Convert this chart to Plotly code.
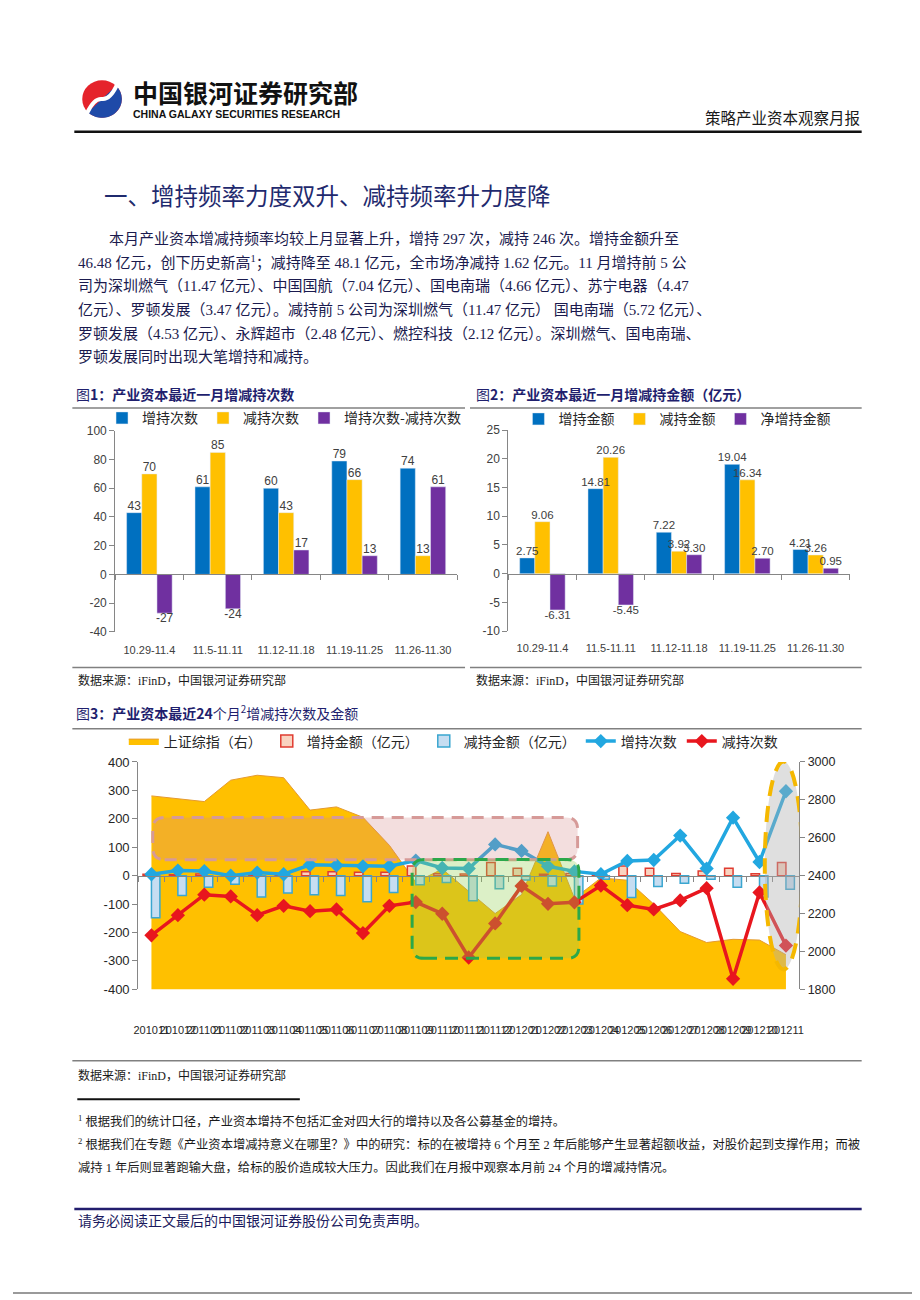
import math
import plotly.graph_objects as go

W, H = 920, 1300
def X(px): return px / W
def Y(py): return 1 - py / H

# ---------------- data ----------------
periods = ['10.29-11.4', '11.5-11.11', '11.12-11.18', '11.19-11.25', '11.26-11.30']
add_counts = [43, 61, 60, 79, 74]
sub_counts = [70, 85, 43, 66, 13]
net_counts = [-27, -24, 17, 13, 61]

add_amounts = [2.75, 14.81, 7.22, 19.04, 4.21]
sub_amounts = [9.06, 20.26, 3.92, 16.34, 3.26]
net_amounts = [-6.31, -5.45, 3.30, 2.70, 0.95]

months = ['201011', '201012', '201101', '201102', '201103', '201104', '201105',
          '201106', '201107', '201108', '201109', '201110', '201111', '201112',
          '201201', '201202', '201203', '201204', '201205', '201206', '201207',
          '201208', '201209', '201210', '201211']
sh_index = [2821, 2807, 2791, 2904, 2930, 2917, 2746, 2763, 2708, 2560, 2365, 2435,
            2318, 2200, 2300, 2632, 2280, 2388, 2376, 2250, 2105, 2047, 2064, 2060, 1983]
add_amt_24 = [5, 3, 6, 2, 3, 3, 14, 14, 12, 12, 34, 7, 6, 46, 26, 5, 8, 2, 34, 26,
              8, 16, 26, 7, 46.48]
sub_amt_24 = [-148, -70, -41, -30, -75, -61, -67, -70, -92, -59, -32, -24, -88, -46,
              -15, -36, -100, -13, -77, -38, -27, -13, -41, -75, -48.1]
add_cnt_24 = [5, 18, 16, 0, 11, 5, 38, 36, 33, 33, 53, 27, 25, 110, 87, 33, 15, 5,
              52, 55, 141, 25, 204, 48, 297]
sub_cnt_24 = [-210, -139, -67, -73, -139, -106, -125, -119, -202, -106, -93, -134,
              -288, -168, -36, -99, -94, -35, -104, -119, -87, -44, -363, -59, -246]

# ---------------- styles ----------------
BLUE, GOLD, PURPLE = '#0070C0', '#FFC000', '#7030A0'
AX = '#868686'
TXT = '#404040'
NUMF = 'Liberation Sans, Arial, sans-serif'
CJK = 'Noto Sans CJK SC'
BODYF = 'Liberation Serif, Noto Sans CJK SC'

c1x = [X(103.3), X(449.0)]
c1y = [Y(624.0), Y(420.7)]
c2x = [X(500.7), X(846.0)]
c2y = [Y(623.3), Y(420.0)]
c3x = [X(126.6), X(794.8)]
c3y = [Y(985.7), Y(755.7)]
r1, r2 = [-40, 100], [-10, 25]
r3l, r3r = [-400, 400], [1800, 3000]

def zero_pos(dom, rng):
    return dom[0] + (0 - rng[0]) / (rng[1] - rng[0]) * (dom[1] - dom[0])

fig = go.Figure()

offs = [-0.333, -0.111, 0.111]
BW = 0.222
def add_group(names, series, xa, ya, zx, lg, fmt, fsize):
    items = list(zip(names, series, [BLUE, GOLD, PURPLE], offs, [1, 2, 3]))
    for name, vals, col, off, rank in items:
        fig.add_trace(go.Bar(x=periods, y=vals, name=name, marker=dict(color=col),
                             width=BW, offset=off, legendrank=rank,
                             xaxis=xa, yaxis=ya, legend=lg))
    # value labels on the overlaid zero-line axis so they sit above every bar
    for name, vals, col, off, rank in items:
        fig.add_trace(go.Scatter(
            x=[k + off + BW / 2 for k in range(len(vals))], y=vals, mode='text',
            text=[fmt.format(v) for v in vals],
            textposition=['top center' if v >= 0 else 'bottom center' for v in vals],
            textfont=dict(family=NUMF, size=fsize, color=TXT), cliponaxis=False,
            showlegend=False, hoverinfo='skip', xaxis=zx, yaxis=ya))

add_group(['增持次数', '减持次数', '增持次数-减持次数'],
          [add_counts, sub_counts, net_counts], 'x', 'y', 'x4', 'legend', '{:d}', 12)
add_group(['增持金额', '减持金额', '净增持金额'],
          [add_amounts, sub_amounts, net_amounts], 'x2', 'y2', 'x5', 'legend2', '{:.2f}', 11.5)

# ---------------- chart 3 ----------------
idx = list(range(len(months)))
fig.add_trace(go.Scatter(x=idx, y=sh_index, name='上证综指（右）', mode='lines',
                         fill='tozeroy', fillcolor=GOLD,
                         line=dict(color='#E59A2F', width=1),
                         xaxis='x3', yaxis='y3', legend='legend3'))
fig.add_trace(go.Scatter(x=[None], y=[None], xaxis='x6', yaxis='y3', showlegend=False,
                         hoverinfo='skip', mode='markers'))
fig.add_trace(go.Bar(x=idx, y=add_amt_24, name='增持金额（亿元）',
                     marker=dict(color='#F9D3C0', line=dict(color='#E03C31', width=1.5)),
                     width=0.32, offset=-0.32, xaxis='x3', yaxis='y4', legend='legend3'))
fig.add_trace(go.Bar(x=idx, y=sub_amt_24, name='减持金额（亿元）',
                     marker=dict(color='#C6DDF1', line=dict(color='#3AA6D0', width=1.5)),
                     width=0.32, offset=0, xaxis='x3', yaxis='y4', legend='legend3'))
fig.add_trace(go.Scatter(x=idx, y=add_cnt_24, name='增持次数', mode='lines+markers',
                         line=dict(color='#22A7E0', width=3.5),
                         marker=dict(symbol='diamond', size=11, color='#22A7E0'),
                         xaxis='x3', yaxis='y4', legend='legend3'))
fig.add_trace(go.Scatter(x=idx, y=sub_cnt_24, name='减持次数', mode='lines+markers',
                         line=dict(color='#E8161E', width=3.5),
                         marker=dict(symbol='diamond', size=11, color='#E8161E'),
                         xaxis='x3', yaxis='y4', legend='legend3'))

# ---------------- axes ----------------
def yax(dom, anchor, rng, step, side='left', fsize=12, color=TXT, **kw):
    vals = list(range(rng[0], rng[1] + 1, step))
    d = dict(domain=dom, anchor=anchor, range=rng, side=side,
             tickmode='array', tickvals=vals, ticktext=[str(v) for v in vals],
             showline=True, linecolor=AX, linewidth=1, ticks='outside', ticklen=5,
             tickcolor=AX, showgrid=False, zeroline=False,
             tickfont=dict(family=NUMF, size=fsize, color=color))
    d.update(kw)
    return d

def zax(over, dom, pos, n):
    return dict(overlaying=over, anchor='free', position=pos, domain=dom,
                range=[-0.5, n - 0.5], tickmode='array',
                tickvals=[k - 0.5 for k in range(n + 1)], ticks='outside', ticklen=5,
                tickcolor=AX, showline=True, linecolor=AX, linewidth=1,
                showticklabels=False, showgrid=False, zeroline=False,
                layer='above traces')

catx = dict(type='category', showline=False, showgrid=False, zeroline=False,
            ticks='outside', tickcolor='rgba(0,0,0,0)',
            tickfont=dict(family=NUMF, size=11, color=TXT))

legend_common = dict(orientation='h', xanchor='left', yanchor='middle',
                     bgcolor='rgba(0,0,0,0)', itemwidth=30, traceorder='normal',
                     font=dict(family=CJK, size=14, color='#262626'))

fig.update_layout(
    width=W, height=H, margin=dict(l=0, r=0, t=0, b=0),
    paper_bgcolor='white', plot_bgcolor='white', barmode='overlay',
    font=dict(family=CJK, color='#262626'),
    xaxis=dict(domain=c1x, anchor='y', ticklen=8, **catx),
    yaxis=yax(c1y, 'x', r1, 20),
    xaxis4=zax('x', c1x, zero_pos(c1y, r1), len(periods)),
    xaxis2=dict(domain=c2x, anchor='y2', ticklen=7, **catx),
    yaxis2=yax(c2y, 'x2', r2, 5),
    xaxis5=zax('x2', c2x, zero_pos(c2y, r2), len(periods)),
    xaxis3=dict(domain=c3x, anchor='y3', range=[-0.5, len(months) - 0.5],
                tickmode='array', tickvals=idx, ticktext=months, tickangle=0,
                ticks='outside', ticklen=30, tickcolor='rgba(0,0,0,0)',
                showline=False, showgrid=False, zeroline=False,
                tickfont=dict(family=NUMF, size=11, color='#262626')),
    yaxis3=yax(c3y, 'x3', r3r, 200, side='right', fsize=12.5, color='#262626'),
    yaxis4=yax(c3y, 'x3', r3l, 100, side='left', fsize=13, color='#262626',
               overlaying='y3'),
    xaxis6=zax('x3', c3x, zero_pos(c3y, r3l), len(months)),
    legend=dict(x=X(90), y=Y(408), **legend_common),
    legend2=dict(x=X(511), y=Y(409), **legend_common),
    legend3=dict(x=X(112), y=Y(735), **legend_common),
)

# ---------------- shapes ----------------
shapes = []
def hline(x0, x1, y, color, width):
    return dict(type='line', xref='paper', yref='paper', x0=X(x0), x1=X(x1),
                y0=Y(y), y1=Y(y), line=dict(color=color, width=width), layer='above')

shapes += [
    hline(62, 858, 118, '#111111', 2.5),
    hline(60, 457, 397.5, '#808080', 1.5), hline(462, 858, 397.5, '#808080', 1.5),
    hline(60, 457, 660, '#808080', 1.5), hline(462, 858, 660, '#808080', 1.5),
    hline(60, 858, 722, '#808080', 1.5), hline(60, 858, 1058, '#808080', 1.5),
    hline(65, 290, 1097, '#111111', 2),
    hline(62, 858, 1208, '#221d6e', 2.5),
    hline(0, 914, 1293, '#9a9a9a', 2),
    dict(type='line', xref='paper', yref='paper', x0=X(913), x1=X(913), y0=Y(0),
         y1=Y(1293), line=dict(color='#9a9a9a', width=2)),
]

def rrect(x0, x1, y0, y1, rx, ry):
    return (f"M {x0+rx},{y0} L {x1-rx},{y0} Q {x1},{y0} {x1},{y0+ry} "
            f"L {x1},{y1-ry} Q {x1},{y1} {x1-rx},{y1} L {x0+rx},{y1} "
            f"Q {x0},{y1} {x0},{y1-ry} L {x0},{y0+ry} Q {x0},{y0} {x0+rx},{y0} Z")

shapes += [
    dict(type='path', xref='x3', yref='y4', path=rrect(0.05, 16.12, 56, 205, 0.45, 42),
         fillcolor='rgba(211,138,135,0.28)',
         line=dict(color='#D69A98', width=3, dash='12px,8px'), layer='above'),
    dict(type='path', xref='x3', yref='y4', path=rrect(9.86, 16.17, -291, 57, 0.45, 42),
         fillcolor='rgba(146,208,80,0.32)',
         line=dict(color='#2BA84A', width=3, dash='13px,8px'), layer='above'),
    dict(type='circle', xref='x3', yref='y4', x0=23.2, x1=24.62, y0=-330, y1=402,
         fillcolor='rgba(175,175,175,0.4)',
         line=dict(color='#F5B800', width=4, dash='16px,10px'), layer='above'),
]

# logo (paper coordinates)
cx, cy, r = 90, 85, 20
shapes.append(dict(type='circle', xref='paper', yref='paper', x0=X(cx - r), x1=X(cx + r),
                   y0=Y(cy + r - 1), y1=Y(cy - r + 1), fillcolor='#E5232B',
                   line=dict(width=0)))
pts = []
for k in range(0, 37):
    a = math.radians(-45 + 180 * k / 36)
    pts.append((cx + r * math.cos(a), cy + (r - 1) * math.sin(a)))
blue_path = 'M ' + ' L '.join(f'{X(px)},{Y(py)}' for px, py in pts) + ' Z'
shapes.append(dict(type='path', xref='paper', yref='paper', path=blue_path,
                   fillcolor='#1F4AA8', line=dict(width=0)))
s_path = (f'M {X(75)},{Y(99)} Q {X(82)},{Y(84)} {X(90)},{Y(85)} '
          f'Q {X(98)},{Y(86)} {X(105)},{Y(71)}')
shapes.append(dict(type='path', xref='paper', yref='paper', path=s_path,
                   line=dict(color='white', width=4)))
fig.update_layout(shapes=shapes)

# ---------------- text ----------------
anns = []
def txt(x, y, s, size, color='#1a1a4e', family=BODYF, xanchor='left'):
    anns.append(dict(x=X(x), y=Y(y), xref='paper', yref='paper', text=s,
                     showarrow=False, xanchor=xanchor, yanchor='middle',
                     font=dict(family=family, size=size, color=color)))

txt(119, 78, '<b>中国银河证券研究部</b>', 25, '#111111', CJK)
txt(119, 100, '<b>CHINA GALAXY SECURITIES RESEARCH</b>', 10.5, '#111111', NUMF)
txt(858, 103, '策略产业资本观察月报', 15.5, '#1a1a1a', CJK, 'right')
txt(90, 182, '一、增持频率力度双升、减持频率升力度降', 23.5, '#1f2a6e', CJK)

para = [
    (95, '本月产业资本增减持频率均较上月显著上升，增持 297 次，减持 246 次。增持金额升至'),
    (64, '46.48 亿元，创下历史新高<sup>1</sup>；减持降至 48.1 亿元，全市场净减持 1.62 亿元。11 月增持前 5 公'),
    (64, '司为深圳燃气（11.47 亿元）、中国国航（7.04 亿元）、国电南瑞（4.66 亿元）、苏宁电器（4.47'),
    (64, '亿元）、罗顿发展（3.47 亿元）。减持前 5 公司为深圳燃气（11.47 亿元） 国电南瑞（5.72 亿元）、'),
    (64, '罗顿发展（4.53 亿元）、永辉超市（2.48 亿元）、燃控科技（2.12 亿元）。深圳燃气、国电南瑞、'),
    (64, '罗顿发展同时出现大笔增持和减持。'),
]
for (x, s), y in zip(para, [226, 250, 274, 298, 322, 346]):
    txt(x, y, s, 15)

txt(62, 383, '图<b>1：产业资本最近一月增减持次数</b>', 14, '#1f1f6e', CJK)
txt(466, 383, '图<b>2：产业资本最近一月增减持金额（亿元）</b>', 14, '#1f1f6e', CJK)
txt(62, 706, '图<b>3：产业资本最近24</b>个月<sup>2</sup>增减持次数及金额', 14, '#1f1f6e', CJK)

src = '数据来源：iFinD，中国银河证券研究部'
txt(64, 673, src, 12, '#1a1a1a')
txt(466, 673, src, 12, '#1a1a1a')
txt(64, 1073, src, 12, '#1a1a1a')

txt(64, 1119, '<sup>1</sup> 根据我们的统计口径，产业资本增持不包括汇金对四大行的增持以及各公募基金的增持。', 12.3, '#1a1a1a')
txt(64, 1142, '<sup>2</sup> 根据我们在专题《产业资本增减持意义在哪里？》中的研究：标的在被增持 6 个月至 2 年后能够产生显著超额收益，对股价起到支撑作用；而被', 12.3, '#1a1a1a')
txt(64, 1166, '减持 1 年后则显著跑输大盘，给标的股价造成较大压力。因此我们在月报中观察本月前 24 个月的增减持情况。', 12.3, '#1a1a1a')

txt(64, 1219, '请务必阅读正文最后的中国银河证券股份公司免责声明。', 14, '#1a1a5e', CJK)

fig.update_layout(annotations=anns)
fig.write_html('out.html')
